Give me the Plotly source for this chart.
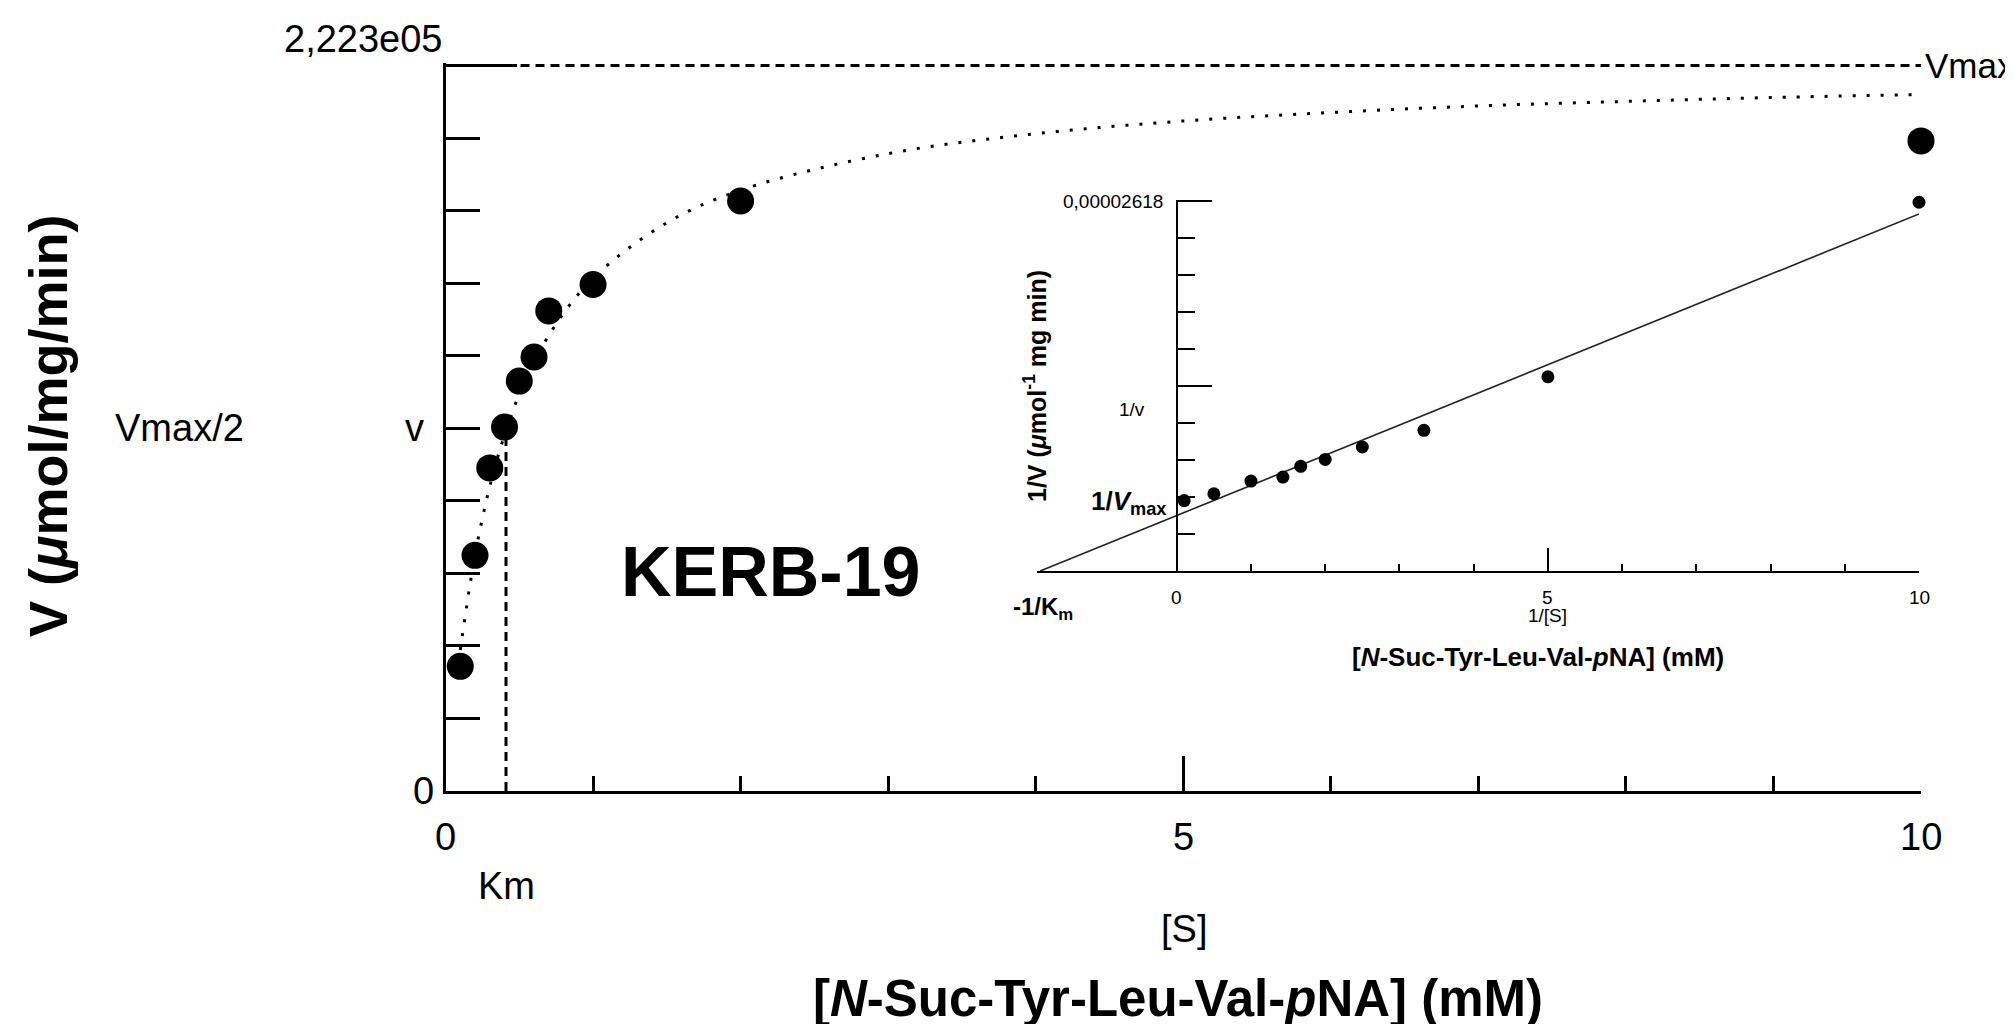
import plotly.graph_objects as go

W, H = 2013, 1024

# ---------------- data ----------------
S_CONC = [0.1, 0.2, 0.3, 0.4, 0.5, 0.6, 0.7, 1.0, 2.0, 10.0]                 # [S] mM
V_OBS = [38200, 72200, 99000, 111500, 125600, 133000, 147100, 155200, 180800, 199200]

CURVE_S = [0.1, 0.2, 0.3, 0.4, 0.5, 0.7, 1.0, 1.5, 2.0, 3.0, 4.0, 5.0, 6.0, 7.0, 8.0, 9.0, 10.0]
CURVE_V = [43200, 72300, 93300, 109100, 121500, 139600, 157100, 174100, 184100,
           195300, 201400, 205300, 207900, 209900, 211300, 212500, 213400]

VMAX = 222300
KM = 0.41

INV_S = [10.0, 5.0, 3.33, 2.5, 2.0, 1.67, 1.43, 1.0, 0.5, 0.1]
INV_V = [2.611e-5, 1.375e-5, 9.96e-6, 8.78e-6, 7.90e-6, 7.41e-6, 6.65e-6, 6.37e-6, 5.47e-6, 4.99e-6]

LB_X = [-1.84, 10.0]
LB_Y = [0.0, 2.528e-5]
INSET_TOP = 2.618e-5

MAIN_X_TICKS = [0, 5, 10]
MAIN_X_LABELS = ["0", "5", "10"]
INSET_X_TICKS = [0, 5, 10]
INSET_X_LABELS = ["0", "5", "10"]

FONT = "Liberation Sans, Arial, sans-serif"


def px(x):
    return x / W


def py(y):
    return 1 - y / H


fig = go.Figure()

# ---------------- main plot ----------------
fig.add_trace(go.Scatter(x=CURVE_S, y=CURVE_V, mode="lines",
                         line=dict(color="black", width=3, dash="3px,11px", shape="spline"),
                         xaxis="x", yaxis="y", hoverinfo="skip"))
fig.add_trace(go.Scatter(x=[0, 10], y=[VMAX, VMAX], mode="lines",
                         line=dict(color="black", width=3, dash="9px,6px"),
                         xaxis="x", yaxis="y", hoverinfo="skip"))
fig.add_trace(go.Scatter(x=[KM, KM], y=[0, VMAX / 2], mode="lines",
                         line=dict(color="black", width=3, dash="9px,6px"),
                         xaxis="x", yaxis="y", hoverinfo="skip"))
fig.add_trace(go.Scatter(x=S_CONC, y=V_OBS, mode="markers",
                         marker=dict(color="black", size=27, symbol="circle"),
                         cliponaxis=False, xaxis="x", yaxis="y"))

# ---------------- inset (Lineweaver-Burk) ----------------
fig.add_trace(go.Scatter(x=LB_X, y=LB_Y, mode="lines",
                         line=dict(color="#222222", width=1.6),
                         xaxis="x2", yaxis="y2", hoverinfo="skip"))
fig.add_trace(go.Scatter(x=INV_S, y=INV_V, mode="markers",
                         marker=dict(color="black", size=13, symbol="circle"),
                         cliponaxis=False, xaxis="x2", yaxis="y2"))

main_y_top_px = 57.5 - 2.9
inset_y_top_px = 193.3 - 1.5

fig.update_layout(
    width=W, height=H, autosize=False,
    margin=dict(l=0, r=0, t=0, b=0),
    paper_bgcolor="white", plot_bgcolor="rgba(0,0,0,0)",
    showlegend=False,
    font=dict(family=FONT, color="black"),
    xaxis=dict(domain=[px(437.5), px(1913)], range=[0, 10], anchor="y",
               showline=True, linewidth=3, linecolor="black",
               ticks="inside", tickmode="array", tickvals=[5, 10], ticklen=35, tickwidth=3,
               tickcolor="black",
               minor=dict(ticks="inside", tickmode="array", tickvals=[1, 2, 3, 4, 6, 7, 8, 9],
                          ticklen=15, tickwidth=3, tickcolor="black"),
               showticklabels=False, showgrid=False, zeroline=False),
    yaxis=dict(domain=[py(783), py(main_y_top_px)], range=[0, VMAX * 1.004], anchor="x",
               showline=True, linewidth=3, linecolor="black",
               ticks="inside", tickmode="array", tickvals=[VMAX], ticklen=71, tickwidth=3,
               tickcolor="black",
               minor=dict(ticks="inside", tickmode="array",
                          tickvals=[VMAX * k / 10 for k in range(1, 10)],
                          ticklen=34, tickwidth=3, tickcolor="black"),
               showticklabels=False, showgrid=False, zeroline=False),
    xaxis2=dict(domain=[px(1029.2), px(1911)], range=[-1.88, 10], anchor="y2",
                showline=True, linewidth=2, linecolor="black",
                ticks="inside", tickmode="array", tickvals=[5, 10], ticklen=23, tickwidth=2,
                tickcolor="black",
                minor=dict(ticks="inside", tickmode="array", tickvals=[1, 2, 3, 4, 6, 7, 8, 9],
                           ticklen=7, tickwidth=2, tickcolor="black"),
                showticklabels=False, showgrid=False, zeroline=False),
    yaxis2=dict(domain=[py(563), py(inset_y_top_px)], range=[0, INSET_TOP * 1.004],
                anchor="free", position=px(1168.8),
                showline=True, linewidth=2, linecolor="black",
                ticks="inside", tickmode="array", tickvals=[INSET_TOP / 2, INSET_TOP],
                ticklen=34, tickwidth=2, tickcolor="black",
                minor=dict(ticks="inside", tickmode="array",
                           tickvals=[INSET_TOP * k / 10 for k in range(1, 10)],
                           ticklen=17, tickwidth=2, tickcolor="black"),
                showticklabels=False, showgrid=False, zeroline=False),
)

anns = []


def ann(text, x, y, xref="paper", yref="paper", size=38, xanchor="center",
        yanchor="middle", angle=0, bold=False):
    if bold:
        text = "<b>" + text + "</b>"
    anns.append(dict(text=text, x=x, y=y, xref=xref, yref=yref, showarrow=False,
                     xanchor=xanchor, yanchor=yanchor, textangle=angle,
                     font=dict(family=FONT, size=size, color="black")))


# main labels
ann("2,223e05", px(437), py(31), xanchor="right")
ann("0", px(415.5), 0, yref="y")
ann("v", px(406), VMAX / 2, yref="y")
ann("Vmax/2", px(171), VMAX / 2, yref="y")
ann("Vmax", px(2009), VMAX, yref="y", xanchor="right", size=35)
for v, t in zip(MAIN_X_TICKS, MAIN_X_LABELS):
    ann(t, v, py(829), xref="x")
ann("Km", KM, py(878), xref="x")
ann("[S]", px(1176), py(921))
ann("KERB-19", px(763), py(564), size=70, bold=True)
ann("V (<i>\u03bc</i>mol/mg/min)", px(40), py(418), size=54, angle=-90, bold=True)
ann("[<i>N</i>-Suc-Tyr-Leu-Val-<i>p</i>NA] (mM)", px(1170), py(990), size=51, bold=True)

# inset labels
ann("0,00002618", px(1157), INSET_TOP, yref="y2", xanchor="right", size=19)
ann("1/v", px(1124), py(401), size=19)
ann("1/<i>V</i><sub>max</sub>", px(1160), py(494), xanchor="right", size=26, bold=True)
ann("1/V (<i>\u03bc</i>mol<sup>-1</sup> mg min)", px(1027), py(378), size=25, angle=-90, bold=True)
for v, t in zip(INSET_X_TICKS, INSET_X_LABELS):
    ann(t, v, py(589), xref="x2", size=19)
ann("1/[S]", px(1539), py(607), size=19)
ann("-1/K<sub>m</sub>", px(1035), py(600), size=24, bold=True)
ann("[<i>N</i>-Suc-Tyr-Leu-Val-<i>p</i>NA] (mM)", px(1530), py(649), size=26, bold=True)

fig.update_layout(annotations=anns)

fig.write_html("out.html")
